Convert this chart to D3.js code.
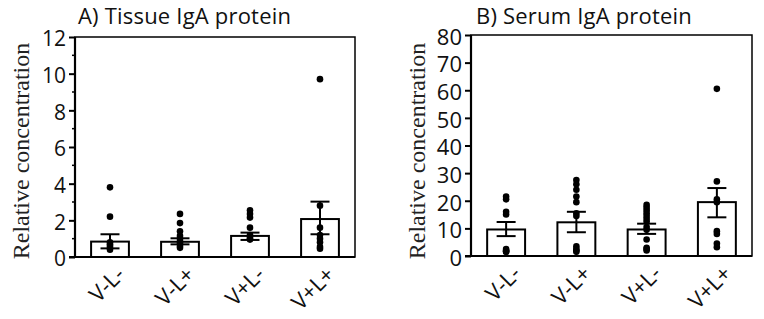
<!DOCTYPE html>
<html>
<head>
<meta charset="utf-8">
<script src="https://cdn.jsdelivr.net/npm/d3@7"></script>
<style>
  body { margin: 0; background: #fff; }
  svg { display: block; }
</style>
</head>
<body>
<svg id="chart" width="764" height="319"></svg>
<script>
// groups shared by both panels
const groups = ["V-L-", "V-L+", "V+L-", "V+L+"];

// A) tissue IgA
const tissueMean = [0.84, 0.83, 1.15, 2.07];
const tissueUpper = [1.24, 1.02, 1.33, 3.02];
const tissueLower = [0.47, 0.69, 0.93, 1.24];
const tissueDots = [
    [3.8, 2.2, 0.8, 0.7, 0.6, 0.5, 0.4],
    [2.35, 1.85, 1.4, 1.15, 1.0, 0.85, 0.75, 0.6, 0.5],
    [2.55, 2.35, 2.15, 1.6, 1.2, 1.1, 1.0, 0.95],
    [9.7, 2.8, 1.6, 1.2, 1.0, 0.8, 0.55, 0.45]
];
const tissueTicks = [0, 2, 4, 6, 8, 10, 12];
const tissueMinor = [1, 3, 5, 7, 9, 11];

// B) serum IgA
const serumMean = [9.6, 12.2, 9.6, 19.5];
const serumUpper = [12.3, 16, 11.7, 24.6];
const serumLower = [7.2, 8.6, 8, 14];
const serumDots = [
    [21.5, 20.5, 16, 15, 2.5, 2, 1.8, 1.5, 1.5],
    [27.5, 26, 24, 21.5, 19.5, 15.5, 14.5, 3.5, 2.5, 2, 1.5],
    [18.5, 17.5, 16.5, 15.5, 14.5, 13.5, 12.5, 10.5, 9.5, 6, 3, 2.5, 2],
    [60.5, 27, 20.5, 19.5, 9, 8, 4.5, 3.2]
];
const serumTicks = [0, 10, 20, 30, 40, 50, 60, 70, 80];

const svg = d3.select("#chart");

//draw one panel
function drawPanel(opt) {
    const g = svg.append("g");

    const x = d3.scaleBand()
        .domain(groups)
        .range([opt.left, opt.right])
        .paddingInner(0.46)
        .paddingOuter(0.23);

    const y = d3.scaleLinear()
        .domain([0, opt.max])
        .range([opt.bottom, opt.top]);

    // title
    g.append("text")
        .attr("x", opt.titleX)
        .attr("y", 24)
        .style("font-family", "'Open Sans', sans-serif")
        .style("font-size", "22px")
        .style("letter-spacing", "0.2px")
        .style("fill", "#111")
        .text(opt.title);

    // y axis label
    g.append("text")
        .attr("transform", `translate(${opt.labelX},151) rotate(-90)`)
        .attr("text-anchor", "middle")
        .style("font-family", "'Liberation Serif', serif")
        .style("font-size", "24px")
        .style("fill", "#222")
        .text("Relative concentration");

    // frame
    g.append("rect")
        .attr("x", opt.left)
        .attr("y", opt.top)
        .attr("width", opt.right - opt.left)
        .attr("height", opt.bottom - opt.top)
        .attr("fill", "none")
        .attr("stroke", "#000")
        .attr("stroke-width", 1.5);

    // y axis
    const yAxis = g.append("g")
        .attr("transform", `translate(${opt.left},0)`)
        .call(d3.axisLeft(y).tickValues(opt.ticks).tickSize(6).tickSizeOuter(0).tickPadding(3));
    yAxis.select(".domain").remove();
    yAxis.selectAll(".tick line").attr("stroke-width", 2);
    yAxis.selectAll(".tick text")
        .attr("dy", "0.42em")
        .style("font-family", "'Open Sans', sans-serif")
        .style("font-size", opt.tickFont + "px")
        .style("fill", "#111");

    if (opt.minor) {
        g.selectAll("line.minor")
            .data(opt.minor)
            .enter()
            .append("line")
            .attr("class", "minor")
            .attr("x1", opt.left - 3)
            .attr("x2", opt.left)
            .attr("y1", d => y(d))
            .attr("y2", d => y(d))
            .attr("stroke", "#000")
            .attr("stroke-width", 1.5);
    }

    // axis lines
    g.append("line")
        .attr("x1", opt.left).attr("x2", opt.left)
        .attr("y1", opt.top).attr("y2", opt.bottom)
        .attr("stroke", "#000").attr("stroke-width", 2.2);
    g.append("line")
        .attr("x1", opt.left - 6).attr("x2", opt.right)
        .attr("y1", opt.bottom).attr("y2", opt.bottom)
        .attr("stroke", "#000").attr("stroke-width", 2.2);

    // Bars
    g.selectAll("rect.bar")
        .data(opt.mean)
        .enter()
        .append("rect")
        .attr("class", "bar")
        .attr("x", (d, i) => x(groups[i]))
        .attr("y", d => y(d))
        .attr("width", x.bandwidth())
        .attr("height", d => opt.bottom - y(d))
        .attr("fill", "#fff")
        .attr("stroke", "#000")
        .attr("stroke-width", 2);

    // Dots
    opt.dots.forEach((vals, i) => {
        const cx = x(groups[i]) + x.bandwidth() / 2;
        g.selectAll(null)
            .data(vals)
            .enter()
            .append("circle")
            .attr("cx", cx)
            .attr("cy", d => y(d))
            .attr("r", 3.3)
            .attr("fill", "#000");
    });

    // Error bars
    const cap = 9.5;
    opt.mean.forEach((m, i) => {
        const cx = x(groups[i]) + x.bandwidth() / 2;
        const eb = g.append("g")
            .attr("stroke", "#000")
            .attr("stroke-width", 2);
        eb.append("line")
            .attr("x1", cx).attr("x2", cx)
            .attr("y1", y(opt.upper[i])).attr("y2", y(opt.lower[i]));
        eb.append("line")
            .attr("x1", cx - cap).attr("x2", cx + cap)
            .attr("y1", y(opt.upper[i])).attr("y2", y(opt.upper[i]));
        eb.append("line")
            .attr("x1", cx - cap).attr("x2", cx + cap)
            .attr("y1", y(opt.lower[i])).attr("y2", y(opt.lower[i]));
    });

    // group labels
    g.selectAll("text.group")
        .data(groups)
        .enter()
        .append("text")
        .attr("class", "group")
        .attr("text-anchor", "end")
        .attr("transform", d => `translate(${x(d) + x.bandwidth() / 2 + 16},${opt.bottom + 19}) rotate(-45)`)
        .style("font-family", "'Open Sans', sans-serif")
        .style("font-size", "22px")
        .style("fill", "#111")
        .text(d => d);
}

drawPanel({
    title: "A) Tissue IgA protein", titleX: 78, labelX: 29,
    left: 75, right: 355, top: 37, bottom: 257, max: 12,
    ticks: tissueTicks, minor: tissueMinor, tickFont: 21,
    mean: tissueMean, upper: tissueUpper, lower: tissueLower, dots: tissueDots
});

drawPanel({
    title: "B) Serum IgA protein", titleX: 476, labelX: 425,
    left: 471, right: 752, top: 35, bottom: 256, max: 80,
    ticks: serumTicks, minor: null, tickFont: 22,
    mean: serumMean, upper: serumUpper, lower: serumLower, dots: serumDots
});
</script>
</body>
</html>
